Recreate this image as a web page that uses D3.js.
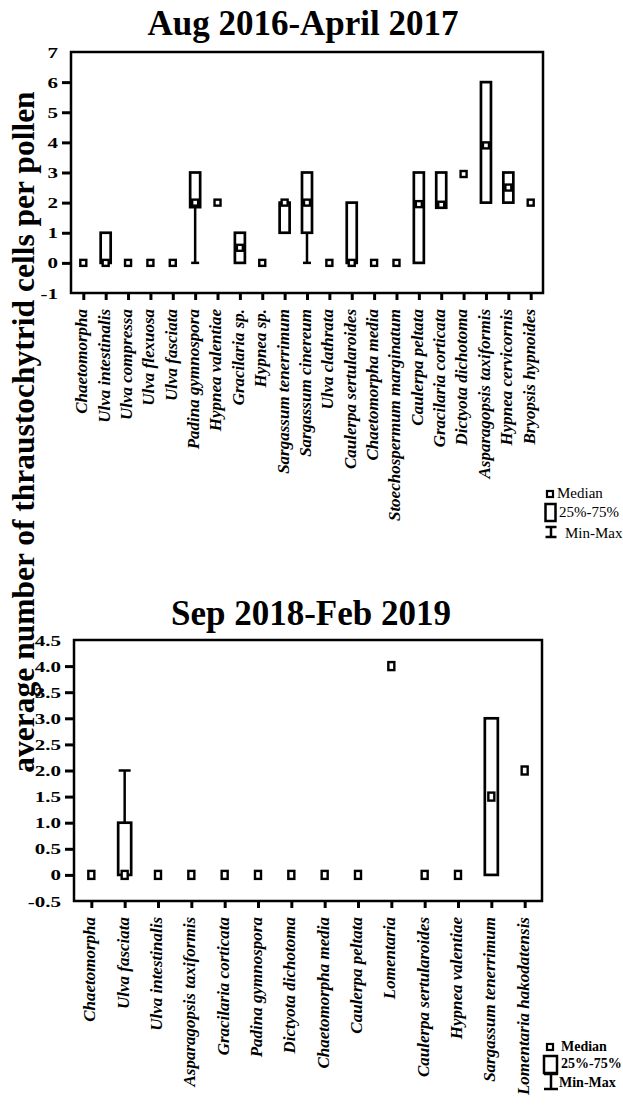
<!DOCTYPE html>
<html>
<head>
<meta charset="utf-8">
<script src="https://cdn.jsdelivr.net/npm/d3@7"></script>
<style>
  body { margin: 0; background: #fff; }
  svg { display: block; }
  svg text { font-family: "Liberation Serif", "Times New Roman", serif; }
</style>
</head>
<body>
<svg id="chart"></svg>
<script>
// ---- data: Aug 2016 - April 2017 ----
const topSpecies = [
  "Chaetomorpha", "Ulva intestinalis", "Ulva compressa", "Ulva flexuosa",
  "Ulva fasciata", "Padina gymnospora", "Hypnea valentiae", "Gracilaria sp.",
  "Hypnea sp.", "Sargassum tenerrimum", "Sargassum cinereum", "Ulva clathrata",
  "Caulerpa sertularoides", "Chaetomorpha media", "Stoechospermum marginatum",
  "Caulerpa peltata", "Gracilaria corticata", "Dictyota dichotoma",
  "Asparagopsis taxiformis", "Hypnea cervicornis", "Bryopsis hypnoides"
];
const topMedian = [0, 0, 0, 0, 0, 2, 2, 0.5, 0, 2, 2, 0, 0, 0, 0, 1.95, 1.93, 2.95, 3.9, 2.5, 2];
const topQ1 = [null, 0, null, null, null, 1.85, null, 0, null, 1, 1, null, 0, null, null, 0, 1.83, null, 2, 2, null];
const topQ3 = [null, 1, null, null, null, 3, null, 1, null, 2, 3, null, 2, null, null, 3, 3, null, 6, 3, null];
const topMin = [null, null, null, null, null, 0, null, null, null, null, 0, null, null, null, null, null, null, null, null, null, null];
const topMax = [null, null, null, null, null, null, null, null, null, null, null, null, null, null, null, null, null, null, null, null, null];
const topYTicks = [-1, 0, 1, 2, 3, 4, 5, 6, 7];
const topYLabels = ["-1", "0", "1", "2", "3", "4", "5", "6", "7"];

// ---- data: Sep 2018 - Feb 2019 ----
const botSpecies = [
  "Chaetomorpha", "Ulva fasciata", "Ulva intestinalis", "Asparagopsis taxiformis",
  "Gracilaria corticata", "Padina gymnospora", "Dictyota dichotoma",
  "Chaetomorpha media", "Caulerpa peltata", "Lomentaria", "Caulerpa sertularoides",
  "Hypnea valentiae", "Sargassum tenerrimum", "Lomentaria hakodatensis"
];
const botMedian = [0, 0, 0, 0, 0, 0, 0, 0, 0, 4, 0, 0, 1.5, 2];
const botQ1 = [null, 0, null, null, null, null, null, null, null, null, null, null, 0, null];
const botQ3 = [null, 1, null, null, null, null, null, null, null, null, null, null, 3, null];
const botMin = [null, null, null, null, null, null, null, null, null, null, null, null, null, null];
const botMax = [null, 2, null, null, null, null, null, null, null, null, null, null, null, null];
const botYTicks = [-0.5, 0, 0.5, 1, 1.5, 2, 2.5, 3, 3.5, 4, 4.5];
const botYLabels = ["-0.5", "0", "0.5", "1.0", "1.5", "2.0", "2.5", "3.0", "3.5", "4.0", "4.5"];

const svgWidth = 623;
const svgHeight = 1109;
const serif = "'Liberation Serif', 'Times New Roman', serif";

const svg = d3.select("#chart")
  .attr("width", svgWidth)
  .attr("height", svgHeight);

function drawPanel(p) {
  const x = d3.scalePoint()
    .domain(p.species)
    .range([p.left, p.right])
    .padding(p.pad);

  const y = d3.scaleLinear()
    .domain(p.yDomain)
    .range([p.bottom, p.top]);

  const g = svg.append("g");

  // title
  svg.append("text")
    .attr("x", p.titleX)
    .attr("y", p.titleY)
    .attr("text-anchor", "middle")
    .style("font-family", serif)
    .style("font-size", "35px")
    .style("font-weight", "bold")
    .text(p.title);

  // y axis
  const yAxis = d3.axisLeft(y)
    .tickValues(p.yTicks)
    .tickSize(9)
    .tickFormat((d, i) => p.yLabels[i]);

  const ya = g.append("g")
    .attr("transform", "translate(" + p.left + ",0)")
    .call(yAxis);
  ya.select(".domain").remove();
  ya.selectAll(".tick line")
    .attr("stroke", "#000")
    .attr("stroke-width", 3)
    .attr("opacity", (d, i) => (i === 0 || i === p.yTicks.length - 1) ? 0 : 1);
  ya.selectAll(".tick text")
    .attr("x", -p.yLabelOff / 1.5)
    .attr("dy", "0.36em")
    .attr("transform", "scale(1.5,1)")
    .style("font-size", "14px")
    .style("font-weight", "bold")
    .style("font-family", serif)
    .attr("fill", "#000");

  // x axis
  const xAxis = d3.axisBottom(x).tickSize(7);
  const xa = g.append("g")
    .attr("transform", "translate(0," + p.bottom + ")")
    .call(xAxis);
  xa.select(".domain").remove();
  xa.selectAll(".tick line")
    .attr("stroke", "#000")
    .attr("stroke-width", 3);
  xa.selectAll(".tick text")
    .attr("x", -(p.labelTop - p.bottom))
    .attr("y", 0)
    .attr("dy", "0.2em")
    .attr("transform", "rotate(-90)")
    .style("text-anchor", "end")
    .style("font-size", "17px")
    .style("font-weight", "bold")
    .style("font-style", "italic")
    .style("font-family", serif)
    .attr("fill", "#000");

  // frame
  g.append("rect")
    .attr("x", p.left)
    .attr("y", p.top)
    .attr("width", p.right - p.left)
    .attr("height", p.bottom - p.top)
    .attr("fill", "none")
    .attr("stroke", "#000")
    .attr("stroke-width", 2.5);

  const idx = d3.range(p.species.length);

  // whiskers
  idx.forEach(function (i) {
    const cx = x(p.species[i]);
    if (p.min[i] !== null) {
      g.append("line")
        .attr("x1", cx).attr("x2", cx)
        .attr("y1", y(p.q1[i])).attr("y2", y(p.min[i]))
        .attr("stroke", "#000").attr("stroke-width", 2.5);
      g.append("line")
        .attr("x1", cx - p.capW / 2).attr("x2", cx + p.capW / 2)
        .attr("y1", y(p.min[i])).attr("y2", y(p.min[i]))
        .attr("stroke", "#000").attr("stroke-width", 2.5);
    }
    if (p.max[i] !== null) {
      g.append("line")
        .attr("x1", cx).attr("x2", cx)
        .attr("y1", y(p.q3[i])).attr("y2", y(p.max[i]))
        .attr("stroke", "#000").attr("stroke-width", 2.5);
      g.append("line")
        .attr("x1", cx - p.capW / 2).attr("x2", cx + p.capW / 2)
        .attr("y1", y(p.max[i])).attr("y2", y(p.max[i]))
        .attr("stroke", "#000").attr("stroke-width", 2.5);
    }
  });

  // boxes 25%-75%
  g.selectAll(".box")
    .data(idx.filter((i) => p.q1[i] !== null))
    .enter()
    .append("rect")
    .attr("x", (i) => x(p.species[i]) - p.boxW / 2)
    .attr("y", (i) => y(p.q3[i]))
    .attr("width", p.boxW)
    .attr("height", (i) => y(p.q1[i]) - y(p.q3[i]))
    .attr("fill", "#fff")
    .attr("stroke", "#000")
    .attr("stroke-width", 2.7);

  // medians
  g.selectAll(".med")
    .data(idx)
    .enter()
    .append("rect")
    .attr("x", (i) => x(p.species[i]) - p.medW / 2)
    .attr("y", (i) => y(p.median[i]) - p.medH / 2)
    .attr("width", p.medW)
    .attr("height", p.medH)
    .attr("fill", "#fff")
    .attr("stroke", "#000")
    .attr("stroke-width", 2.4);
}

drawPanel({
  title: "Aug 2016-April 2017", titleX: 303, titleY: 35,
  species: topSpecies, median: topMedian, q1: topQ1, q3: topQ3, min: topMin, max: topMax,
  yTicks: topYTicks, yLabels: topYLabels, yDomain: [-1, 7],
  left: 71, right: 543, top: 52, bottom: 293, pad: 0.55,
  yLabelOff: 13, labelTop: 309, boxW: 10, medW: 6, medH: 6, capW: 8
});

drawPanel({
  title: "Sep 2018-Feb 2019", titleX: 311, titleY: 625,
  species: botSpecies, median: botMedian, q1: botQ1, q3: botQ3, min: botMin, max: botMax,
  yTicks: botYTicks, yLabels: botYLabels, yDomain: [-0.5, 4.5],
  left: 74, right: 542, top: 640, bottom: 901, pad: 0.52,
  yLabelOff: 13, labelTop: 917, boxW: 13, medW: 6, medH: 8, capW: 12
});

// shared y axis title
svg.append("text")
  .attr("transform", "translate(34,432) rotate(-90)")
  .attr("text-anchor", "middle")
  .style("font-family", serif)
  .style("font-size", "31.5px")
  .style("font-weight", "bold")
  .text("average number of thraustochytrid cells per pollen");

// legend helper
function drawLegend(l) {
  const lg = svg.append("g")
    .style("font-family", serif)
    .style("font-size", l.size + "px")
    .style("font-weight", l.bold ? "bold" : "normal");
  lg.append("rect")
    .attr("x", l.sq[0]).attr("y", l.sq[1]).attr("width", l.sq[2]).attr("height", l.sq[3])
    .attr("fill", "#fff").attr("stroke", "#000").attr("stroke-width", 2.2);
  lg.append("rect")
    .attr("x", l.bx[0]).attr("y", l.bx[1]).attr("width", l.bx[2]).attr("height", l.bx[3])
    .attr("fill", "#fff").attr("stroke", "#000").attr("stroke-width", 2.5);
  const cx = l.iBar[0];
  lg.append("line")
    .attr("x1", cx).attr("x2", cx).attr("y1", l.iBar[1]).attr("y2", l.iBar[2])
    .attr("stroke", "#000").attr("stroke-width", 2.5);
  [l.iBar[1], l.iBar[2]].forEach(function (yy) {
    lg.append("line")
      .attr("x1", cx - l.iBar[3] / 2).attr("x2", cx + l.iBar[3] / 2)
      .attr("y1", yy).attr("y2", yy)
      .attr("stroke", "#000").attr("stroke-width", 2.5);
  });
  l.texts.forEach(function (t) {
    lg.append("text").attr("x", t[0]).attr("y", t[1]).text(t[2]);
  });
}

drawLegend({
  bold: false, size: 15,
  sq: [547, 491, 6, 6],
  bx: [545.5, 504, 10, 17],
  iBar: [551, 527, 537, 11],
  texts: [[557, 498, "Median"], [559, 517, "25%-75%"], [565, 538, "Min-Max"]]
});

drawLegend({
  bold: true, size: 14,
  sq: [547, 1044, 6, 6],
  bx: [544, 1056, 13, 17],
  iBar: [551, 1074, 1089, 14],
  texts: [[561, 1051, "Median"], [561, 1068, "25%-75%"], [559, 1087, "Min-Max"]]
});
</script>
</body>
</html>
